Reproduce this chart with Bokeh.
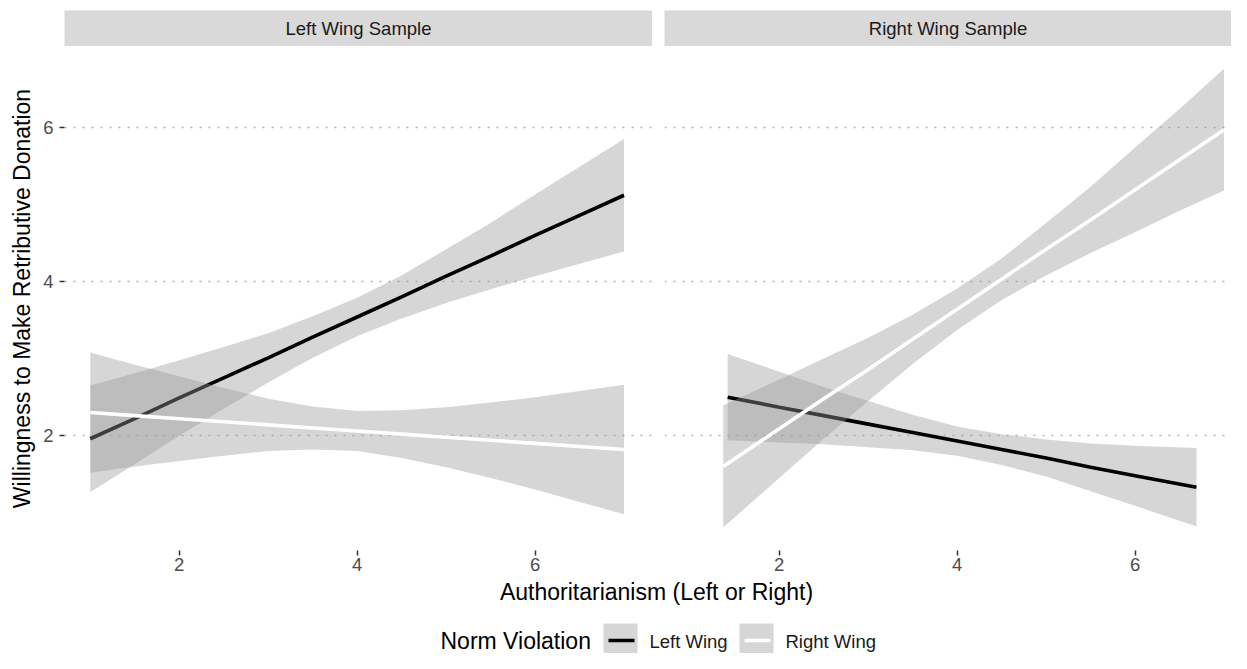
from bokeh.plotting import figure
from bokeh.models import Range1d, FixedTicker
from bokeh.layouts import column, row
from bokeh.embed import file_html
from bokeh.resources import INLINE
from bokeh.core.properties import value

FONT = "Liberation Sans"

# ---------------- data ----------------
panels = ["Left Wing Sample", "Right Wing Sample"]
violation = ["Left Wing", "Right Wing"]
x_ticks = [2, 4, 6]
y_ticks = [2, 4, 6]
x_title = "Authoritarianism (Left or Right)"
y_title = "Willingness to Make Retributive Donation"
legend_title = "Norm Violation"

# Left Wing Sample
lw_x = [1.0, 1.5, 2.0, 2.5, 3.0, 3.5, 4.0, 4.5, 5.0, 5.5, 6.0, 6.5, 7.0]
lw_left_fit = [1.96, 2.22, 2.49, 2.75, 3.01, 3.28, 3.54, 3.80, 4.07, 4.33, 4.60, 4.86, 5.12]
lw_left_lo = [1.27, 1.63, 2.00, 2.35, 2.69, 3.01, 3.29, 3.52, 3.72, 3.90, 4.07, 4.23, 4.39]
lw_left_hi = [2.65, 2.81, 2.98, 3.15, 3.33, 3.55, 3.79, 4.08, 4.42, 4.76, 5.13, 5.49, 5.85]
lw_right_fit = [2.30, 2.26, 2.22, 2.18, 2.14, 2.10, 2.06, 2.02, 1.98, 1.94, 1.90, 1.86, 1.82]
lw_right_lo = [1.52, 1.60, 1.67, 1.74, 1.80, 1.82, 1.80, 1.71, 1.59, 1.45, 1.30, 1.14, 0.98]
lw_right_hi = [3.08, 2.92, 2.77, 2.62, 2.48, 2.38, 2.32, 2.33, 2.37, 2.43, 2.50, 2.58, 2.66]

# Right Wing Sample
rw_left_x = [1.42, 2.0, 2.5, 3.0, 3.5, 4.0, 4.5, 5.0, 5.5, 6.0, 6.69]
rw_left_fit = [2.50, 2.37, 2.26, 2.15, 2.04, 1.93, 1.82, 1.71, 1.59, 1.48, 1.33]
rw_left_lo = [1.94, 1.91, 1.89, 1.85, 1.81, 1.74, 1.62, 1.47, 1.28, 1.09, 0.82]
rw_left_hi = [3.06, 2.83, 2.63, 2.45, 2.27, 2.12, 2.02, 1.95, 1.90, 1.87, 1.84]
rw_right_x = [1.37, 2.0, 2.5, 3.0, 3.5, 4.0, 4.5, 5.0, 5.5, 6.0, 6.5, 7.0]
rw_right_fit = [1.60, 2.09, 2.48, 2.86, 3.25, 3.64, 4.03, 4.42, 4.80, 5.19, 5.58, 5.97]
rw_right_lo = [0.81, 1.45, 1.96, 2.45, 2.93, 3.37, 3.76, 4.08, 4.37, 4.64, 4.92, 5.18]
rw_right_hi = [2.39, 2.73, 3.00, 3.27, 3.57, 3.91, 4.30, 4.76, 5.23, 5.74, 6.24, 6.76]

# ---------------- style / layout ----------------
LINE_COLORS = {"Left Wing": "#000000", "Right Wing": "#ffffff"}
BAND_COLOR = "#999999"
BAND_ALPHA = 0.4
STRIP_BG = "#d9d9d9"
TICK_COLOR = "#4d4d4d"
SMALL = "18.5px"
BIG = "23px"

FW_L, FW_R, FH = 588, 567, 504
BORDER_L, GAP = 64, 12
TOP = 10
STRIP_H = 36
PANEL_BOTTOM = 25
FOOT_H = 653 - (TOP + STRIP_H + FH + PANEL_BOTTOM)
Y_RANGE = (0.51, 7.05)
X_START = 0.71
PX_PER_UNIT = FW_L / (7.32 - X_START)


def strip(label, left_border, fw):
    s = figure(frame_width=fw, frame_height=STRIP_H, min_border_left=left_border,
               min_border_right=0, min_border_top=TOP, min_border_bottom=0,
               x_range=Range1d(0, 1), y_range=Range1d(0, 1),
               x_axis_location=None, y_axis_location=None,
               output_backend="svg", toolbar_location=None,
               background_fill_color=STRIP_BG, border_fill_color="white",
               outline_line_color=None)
    s.grid.visible = False
    s.text(x=[0.5], y=[0.5], text=[label], text_font=value(FONT),
           text_font_size=value(SMALL), text_color="#1a1a1a",
           text_align="center", text_baseline="middle")
    return s


def panel(fw, left_border, show_y):
    x_end = X_START + fw / PX_PER_UNIT
    p = figure(frame_width=fw, frame_height=FH, min_border_left=left_border,
               min_border_right=0, min_border_top=0, min_border_bottom=PANEL_BOTTOM,
               x_range=Range1d(X_START, x_end), y_range=Range1d(*Y_RANGE),
               y_axis_location="left" if show_y else None,
               output_backend="svg", toolbar_location=None,
               background_fill_color="white", border_fill_color="white",
               outline_line_color=None)
    p.xgrid.visible = False
    p.ygrid.ticker = FixedTicker(ticks=y_ticks)
    p.ygrid.grid_line_color = "#b3b3b3"
    p.ygrid.grid_line_dash = "2 7"
    p.ygrid.grid_line_width = 1.5
    axes = [p.xaxis[0]] + ([p.yaxis[0]] if show_y else [])
    for ax in axes:
        ax.axis_line_color = None
        ax.major_tick_line_color = "#333333"
        ax.major_tick_line_width = 1.5
        ax.major_tick_in = 0
        ax.major_tick_out = 5
        ax.minor_tick_line_color = None
        ax.major_label_text_font = FONT
        ax.major_label_text_font_size = SMALL
        ax.major_label_text_color = TICK_COLOR
    p.xaxis.ticker = FixedTicker(ticks=x_ticks)
    p.xaxis.major_label_standoff = 2
    if show_y:
        p.yaxis.ticker = FixedTicker(ticks=y_ticks)
        p.yaxis.major_label_standoff = 6
        p.yaxis.axis_label = y_title
        p.yaxis.axis_label_text_font = FONT
        p.yaxis.axis_label_text_font_size = BIG
        p.yaxis.axis_label_text_font_style = "normal"
        p.yaxis.axis_label_text_color = "#000000"
        p.yaxis.axis_label_standoff = 5
    return p


def add_fit(p, x, fit, lo, hi, group):
    p.varea(x=x, y1=lo, y2=hi, fill_color=BAND_COLOR, fill_alpha=BAND_ALPHA)
    p.line(x=x, y=fit, line_color=LINE_COLORS[group], line_width=3.6)


stripL = strip(panels[0], BORDER_L, FW_L)
stripR = strip(panels[1], GAP, FW_R)

pL = panel(FW_L, BORDER_L, True)
add_fit(pL, lw_x, lw_left_fit, lw_left_lo, lw_left_hi, violation[0])
add_fit(pL, lw_x, lw_right_fit, lw_right_lo, lw_right_hi, violation[1])

pR = panel(FW_R, GAP, False)
add_fit(pR, rw_left_x, rw_left_fit, rw_left_lo, rw_left_hi, violation[0])
add_fit(pR, rw_right_x, rw_right_fit, rw_right_lo, rw_right_hi, violation[1])

# ---------------- footer: x title + legend ----------------
FOOT_W = BORDER_L + FW_L + GAP + FW_R
foot_top = TOP + STRIP_H + FH + PANEL_BOTTOM
foot = figure(frame_width=FOOT_W, frame_height=FOOT_H, min_border=0,
              x_range=Range1d(0, FOOT_W), y_range=Range1d(FOOT_H, 0),
              x_axis_location=None, y_axis_location=None,
              output_backend="svg", toolbar_location=None,
              background_fill_color="white", border_fill_color="white",
              outline_line_color=None)
foot.grid.visible = False

# x-axis title centred under both panels (text centre ~591 px from the top)
foot.text(x=[656], y=[591 - foot_top], text=[x_title],
          text_font=value(FONT), text_font_size=value(BIG),
          text_color="#000000", text_align="center", text_baseline="middle")

# legend (title on the left, two keys); vertical centre ~640 px from the top
mid_y = 640 - foot_top
foot.text(x=[440], y=[mid_y], text=[legend_title], text_font=value(FONT),
          text_font_size=value(BIG), text_color="#000000",
          text_align="left", text_baseline="middle")
key_left = [603, 739]
lab_left = [649, 785]
for i, grp in enumerate(violation):
    kl = key_left[i]
    foot.quad(left=[kl], right=[kl + 34], top=[mid_y - 17], bottom=[FOOT_H],
              fill_color=BAND_COLOR, fill_alpha=BAND_ALPHA, line_color=None)
    foot.segment(x0=[kl + 5], x1=[kl + 31], y0=[mid_y], y1=[mid_y],
                 line_color=LINE_COLORS[grp], line_width=3.6)
    foot.text(x=[lab_left[i]], y=[mid_y + 1], text=[grp], text_font=value(FONT),
              text_font_size=value(SMALL), text_color="#1a1a1a",
              text_align="left", text_baseline="middle")

layout = column(row(stripL, stripR), row(pL, pR), foot)

open("out.html", "w").write(file_html(layout, INLINE))
